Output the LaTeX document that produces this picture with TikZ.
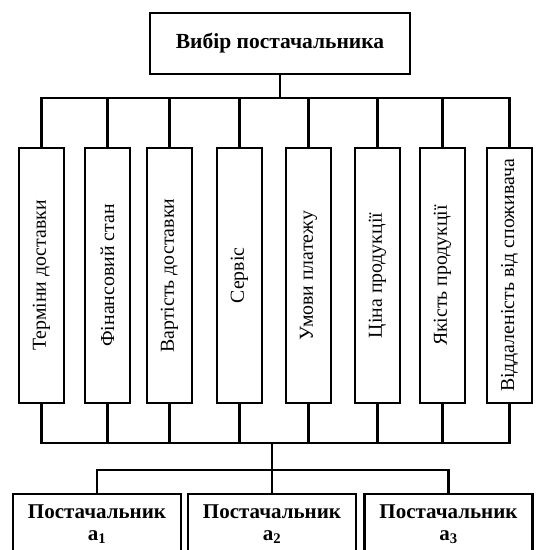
\documentclass[tikz,border=0pt]{standalone}
\usepackage{fontspec}
\setmainfont{Liberation Serif}
\begin{document}
\begin{tikzpicture}[x=1pt,y=-1pt,
  box/.style={draw, line width=2.2pt, fill=white, inner sep=0pt, align=center},
  crit/.style={box, rotate=90, minimum width=255pt, minimum height=45pt, font=\fontsize{19.8}{22}\selectfont},
  topbox/.style={box, minimum width=260pt, minimum height=61pt, font=\bfseries\fontsize{21.5}{23}\selectfont},
  supbox/.style={box, minimum width=168pt, minimum height=60pt, font=\bfseries\fontsize{21}{22}\selectfont},
  conn/.style={line width=2.2pt, line cap=rect}]
\useasboundingbox (0,0) rectangle (539,550);
\clip (0,0) rectangle (539,550);
\node[topbox] (top) at (280,43.5) {Вибір постачальника};
\node[crit] (f1) at (41.5,275.5) {Терміни доставки};
\node[crit] (f2) at (107.5,275.5) {Фінансовий стан};
\node[crit] (f3) at (169.5,275.5) {Вартість доставки};
\node[crit] (f4) at (239.5,275.5) {Сервіс};
\node[crit] (f5) at (308.5,275.5) {Умови платежу};
\node[crit] (f6) at (377.5,275.5) {Ціна продукції};
\node[crit] (f7) at (442.5,275.5) {Якість продукції};
\node[crit] (f8) at (509.5,275.5) {Віддаленість від споживача};
\node[supbox] (p1) at (97,524) {Постачальник\\a\textsubscript{1}};
\node[supbox] (p2) at (272,524) {Постачальник\\a\textsubscript{2}};
\node[supbox] (p3) at (448.5,524) {Постачальник\\a\textsubscript{3}};
\coordinate (tb) at (0,98);
\coordinate (bb) at (0,443);
\coordinate (lb) at (0,470);
\draw[conn] (top.south) -- (top.south |- tb);
\draw[conn] (f1.east |- tb) -- (f8.east |- tb);
\foreach \i in {1,...,8}{
  \draw[conn] (f\i.east) -- (f\i.east |- tb);
  \draw[conn] (f\i.west) -- (f\i.west |- bb);
}
\draw[conn] (f1.west |- bb) -- (f8.west |- bb);
\draw[conn] (p2.north |- bb) -- (p2.north);
\draw[conn] (p1.north |- lb) -- (p3.north |- lb);
\draw[conn] (p1.north |- lb) -- (p1.north);
\draw[conn] (p3.north |- lb) -- (p3.north);
\end{tikzpicture}
\end{document}
